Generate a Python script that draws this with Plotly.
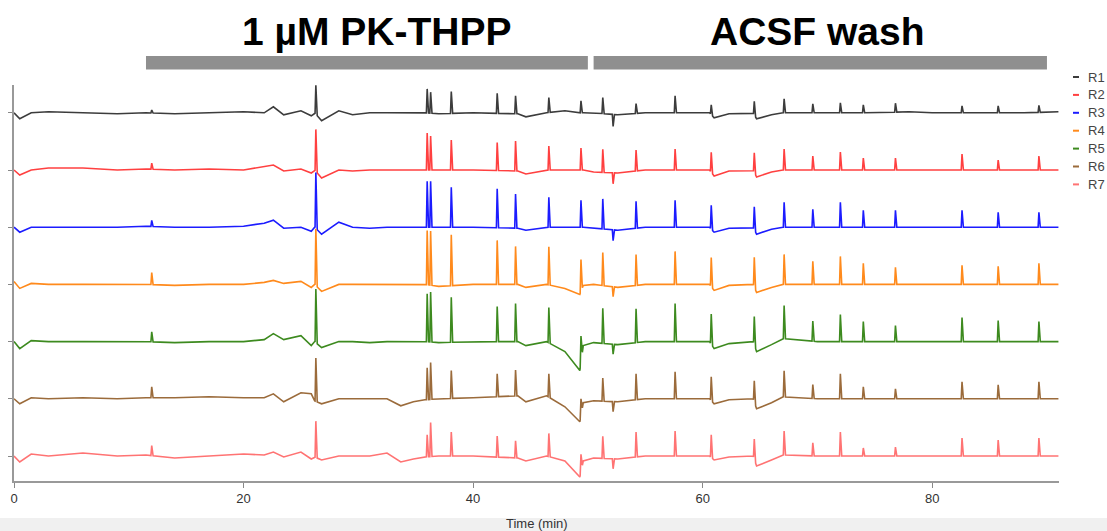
import numpy as np
import plotly.graph_objects as go

# ---------------- data ----------------
names = ["R1", "R2", "R3", "R4", "R5", "R6", "R7"]
colors = ["#3c3c3c", "#ff4040", "#1c1cff", "#ff8a1c", "#3d8a1f", "#9b6b3b", "#ff7373"]
offsets = [343.2, 286.0, 228.8, 171.6, 114.4, 57.2, 0.0]

# slow baseline (time in min, deflection in display units)
drift_t = [0, 0.5, 1.5, 3, 6, 9, 11.5, 14, 17, 20, 21.8, 22.6, 23.5, 25.0, 25.9, 26.2, 26.8, 28.3,
           29.5, 31, 32.5, 33.7, 34.8, 35.8, 37, 40, 43.9, 44.6, 46.4, 48.0, 49.3, 49.6, 50.5, 52.6,
           55, 58, 60.6, 61.0, 62.3, 64.4, 64.7, 66.0, 67.0, 70, 75, 78, 80, 84, 88, 91]
drift_R1 = [0, -6, 0, 1, 0, -1, 0, -1, 0, 1, 0, 6, -2, 2, -3, 0, -8, 2, -2, 0, 0, 0, 0, 0, -1, 0, -1, -4,
            0, 2, 0, 0, 0, -2, 0, 0, 0, -5, -1, 0, -6, -2, 0, 0, 0, 1, 0, 0, 0, 1]
drift_R2 = [0, -5, 0, 2, 2, 0, 1, 0, 1, 0, 3, 5, -1, 1, -3, 0, -8, 0, -1, 0, 0, 0, 0, 0, 0, 0, -1, -4,
            0, 0, 0, 0, -2, -3, 0, 0, 0, -6, -1, 0, -7, -2, 0, 0, 0, 0, 0, 0, 0, 0]
drift_R3 = [0, -5, 0, 0, 0, 0, 1, 0, 0, 1, 4, 7, -1, 0, -4, 0, -7, 5, 0, -1, 0, 0, 0, 0, 0, 0, -1, -3,
            0, 0, 0, 0, -1, -3, 0, 0, 0, -5, -1, 0, -7, -2, 0, 0, 0, 0, 0, 0, 0, 0]
drift_R4 = [3, -4, 1, 0, 0, 0, 0, -1, 0, 0, 2, 4, 1, 3, -3, 0, -7, 0, 0, 0, 0, 0, 0, 0, -2, 0, 0, -3,
            0, -4, -10, -1, 0, -3, 0, 0, 0, -6, -1, 0, -8, -3, 0, 0, 0, 0, 0, 0, 0, 0]
drift_R5 = [0, -7, 1, 0, 0, 0, 0, -1, 0, 0, 2, 8, 2, 6, -4, 0, -6, 0, 0, -1, 0, 0, 0, 0, -1, 0, 0, -4,
            0, -10, -29, -4, -1, -3, 0, 0, 0, -7, -2, 0, -10, -3, 3, 0, 0, 0, 0, 0, 0, 0]
drift_R6 = [0, -5, 1, 0, 1, 0, 1, 1, 2, 1, 1, 5, -3, 6, 5, -2, -5, 0, 0, 0, 0, -7, -3, -1, 0, 1, 3, -3,
            3, -8, -23, -4, -2, -3, 0, 0, 0, -5, -1, 0, -10, -4, 2, 0, 0, 0, 0, 0, 0, 0]
drift_R7 = [0, -6, 2, 0, 3, 0, 1, -2, 0, 2, 1, 4, -1, 4, -3, -1, -4, 0, 0, 0, 3, -6, -3, -1, 0, 0, -2,
            -5, 0, -5, -21, -5, -2, -3, 0, 0, 0, -4, -1, 0, -10, -4, 1, 0, 0, 0, 0, 0, 0, 0]

# burst events (min) and amplitude of each event per recording
spike_t = [12.0, 26.3, 36.0, 36.3, 38.1, 42.1, 43.7, 46.6, 49.4, 51.3, 52.2, 54.2, 57.6, 60.75,
           64.5, 67.1, 69.6, 72.0, 74.0, 76.8, 82.6, 85.75, 89.3]
amp_R1 = [3, 28, 24, 21, 22, 20, 18, 15, 12, 16, -12, 10, 17, 9, 12, 14, 9, 10, 8, 9, 7, 7, 7]
amp_R2 = [6, 41, 37, 34, 30, 28, 30, 24, 22, 23, -11, 21, 21, 19, 18, 21, 14, 18, 12, 12, 16, 10, 14]
amp_R3 = [6, 55, 46, 46, 40, 39, 34, 30, 27, 30, -11, 27, 27, 23, 21, 25, 18, 25, 17, 17, 17, 15, 15]
amp_R4 = [12, 56, 54, 54, 51, 44, 38, 38, 34, 33, -10, 31, 33, 28, 28, 30, 23, 28, 21, 17, 19, 18, 21]
amp_R5 = [10, 53, 48, 50, 45, 35, 38, 35, 32, 35, -10, 34, 38, 29, 26, 33, 20, 27, 20, 16, 24, 21, 20]
amp_R6 = [11, 43, 32, 37, 28, 23, 26, 23, 21, 23, -10, 26, 27, 23, 19, 26, 14, 25, 12, 10, 17, 14, 17]
amp_R7 = [10, 36, 22, 34, 24, 21, 17, 23, 21, 22, -10, 25, 25, 22, 18, 24, 13, 24, 8, 9, 18, 16, 18]

phase_labels = ["1 \u00b5M PK-THPP", "ACSF wash"]
phase_start = [11.5, 50.5]
phase_end = [50.0, 90.0]
phase_label_x = [31.6, 70.0]

x_ticks = [0, 20, 40, 60, 80]

drifts = [drift_R1, drift_R2, drift_R3, drift_R4, drift_R5, drift_R6, drift_R7]
amps = [amp_R1, amp_R2, amp_R3, amp_R4, amp_R5, amp_R6, amp_R7]

# ---------------- build ----------------
PRE, POST = 0.07, 0.12
fig = go.Figure()
dt = np.array(drift_t, float)
st = np.array(spike_t, float)
for name, col, off, dv, av in zip(names, colors, offsets, drifts, amps):
    dv = np.array(dv, float)
    keep = np.ones(len(dt), bool)
    for t in st:
        keep &= ~((dt > t - PRE - 0.01) & (dt < t + POST + 0.01))
    xs = list(dt[keep])
    ys = list(dv[keep])
    for t, a in zip(st, av):
        f0 = float(np.interp(t - PRE, dt, dv))
        f1 = float(np.interp(t + POST, dt, dv))
        xs += [t - PRE, t, t + POST]
        ys += [f0, f0 + a, f1]
    order = np.argsort(np.array(xs), kind="stable")
    xs = np.array(xs)[order]
    ys = np.array(ys)[order] + off
    fig.add_trace(go.Scatter(x=xs, y=ys, mode="lines", name=name,
                             line=dict(color=col, width=1.6), showlegend=False,
                             hoverinfo="skip"))

PLOT_TOP, PLOT_BOT = 85, 481
H = PLOT_BOT - PLOT_TOP
def py(p):
    return (PLOT_BOT - p) / H

LEFT, RIGHT = 14, 1059
def px(p):
    return (p - LEFT) / (RIGHT - LEFT)

NARROW = "Liberation Sans Narrow, Liberation Sans, Arial"
shapes = []
annotations = []
for lab, x0, x1, xl in zip(phase_labels, phase_start, phase_end, phase_label_x):
    shapes.append(dict(type="rect", xref="x", yref="paper", x0=x0, x1=x1,
                       y0=py(69.5), y1=py(56), fillcolor="#8f8f8f", line=dict(width=0)))
    annotations.append(dict(text="<b>%s</b>" % lab, xref="x", yref="paper", x=xl, y=py(32),
                            xanchor="center", yanchor="middle", showarrow=False,
                            font=dict(family="Liberation Sans, Arial", size=39, color="#000000")))

# legend (manual, short dash symbols)
for i, (name, col) in enumerate(zip(names, colors)):
    yy = py(77 + 17.9 * i)
    shapes.append(dict(type="line", xref="paper", yref="paper", x0=px(1073), x1=px(1079),
                       y0=yy, y1=yy, line=dict(color=col, width=2)))
    annotations.append(dict(text=name, xref="paper", yref="paper", x=px(1086), y=yy,
                            xanchor="left", yanchor="middle", showarrow=False,
                            font=dict(family=NARROW, size=13, color="#444444")))

# bottom band with axis title
shapes.append(dict(type="rect", xref="paper", yref="paper", x0=-0.05, x1=1.1,
                   y0=py(540), y1=py(518), fillcolor="#f0f0f0", line=dict(width=0), layer="below"))
annotations.append(dict(text="Time (min)", xref="paper", yref="paper", x=0.5, y=py(523),
                        xanchor="center", yanchor="middle", showarrow=False,
                        font=dict(family=NARROW, size=13, color="#333333")))

fig.update_layout(
    width=1107, height=531,
    margin=dict(l=LEFT, r=1107 - RIGHT, t=PLOT_TOP, b=531 - PLOT_BOT, pad=0, autoexpand=False),
    paper_bgcolor="white", plot_bgcolor="white",
    shapes=shapes, annotations=annotations, showlegend=False,
    xaxis=dict(range=[0, 91.05], tickvals=x_ticks, ticks="outside", ticklen=5, tickcolor="#888888",
               showline=True, linecolor="#999999", linewidth=1.5, showgrid=False, zeroline=False,
               automargin=False,
               tickfont=dict(family=NARROW, size=13, color="#333333")),
    yaxis=dict(range=[-25, 371], tickvals=offsets, ticktext=[""] * len(offsets), ticks="outside",
               ticklen=4, tickcolor="#888888", showline=True, linecolor="#999999", linewidth=2,
               showgrid=False, zeroline=False, showticklabels=False, automargin=False),
)

fig.write_html("out.html", config={"responsive": False, "displayModeBar": False},
               post_script="document.body.style.margin='0';document.body.style.padding='0';"
                           "document.body.style.overflow='hidden';")
